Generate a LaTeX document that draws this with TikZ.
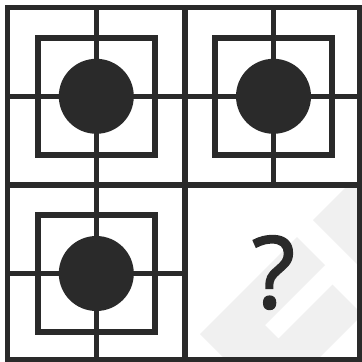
\documentclass[tikz,border=0pt]{standalone}
\usepackage{fontspec}
\setmainfont{Open Sans}
\newfontfamily\qfont[FakeBold=1.6]{Open Sans}
\definecolor{ink}{HTML}{2A2A2A}
\definecolor{wm}{HTML}{F0F0F0}
\tikzset{
  gridline/.style={draw=ink, line width=5.5pt},
  dot/.style={fill=ink},
  wmark/.style={fill=wm, draw=none}
}
\begin{document}
\begin{tikzpicture}[x=1pt,y=-1pt]
\useasboundingbox (0,0) rectangle (362,362);
\fill[white] (0,0) rectangle (362,362);
% watermark in the bottom-right cell
\begin{scope}
  \clip (185,185) rectangle (359.5,359.5);
  \fill[wmark] (200,334) -- (297,237) -- (325,265) -- (265,325) -- (278.5,338.5)
     -- (332.5,284.5) -- (362.5,314.5) -- (271.5,405.5) -- cycle;
  \fill[wmark] (313,220) -- (363,170) -- (363,270) -- cycle;
\end{scope}
% cells: left/top centre 96.3, right/bottom centre 273.5
\foreach \cx/\cy/\xa/\xb/\ya/\yb in {96.3/96.3/7.5/185/7.5/185, 273.5/96.3/185/359.5/7.5/185, 96.3/273.5/7.5/185/185/359.5}{
  \draw[gridline] (\cx,\ya) -- (\cx,\yb);
  \draw[gridline] (\xa,\cy) -- (\xb,\cy);
  \draw[gridline] (\cx-58.5,\cy-58.5) rectangle (\cx+58.5,\cy+58.5);
  \fill[dot] (\cx,\cy) circle (37.5);
}
% outer frame and dividers
\draw[gridline] (7.5,7.5) rectangle (359.5,359.5);
\draw[gridline] (185,7.5) -- (185,359.5);
\draw[gridline] (7.5,185) -- (359.5,185);
\node[inner sep=0, text=ink, font=\qfont\fontsize{100}{100}\selectfont] (q) at (273.5,272.5) {?};
\end{tikzpicture}
\end{document}
